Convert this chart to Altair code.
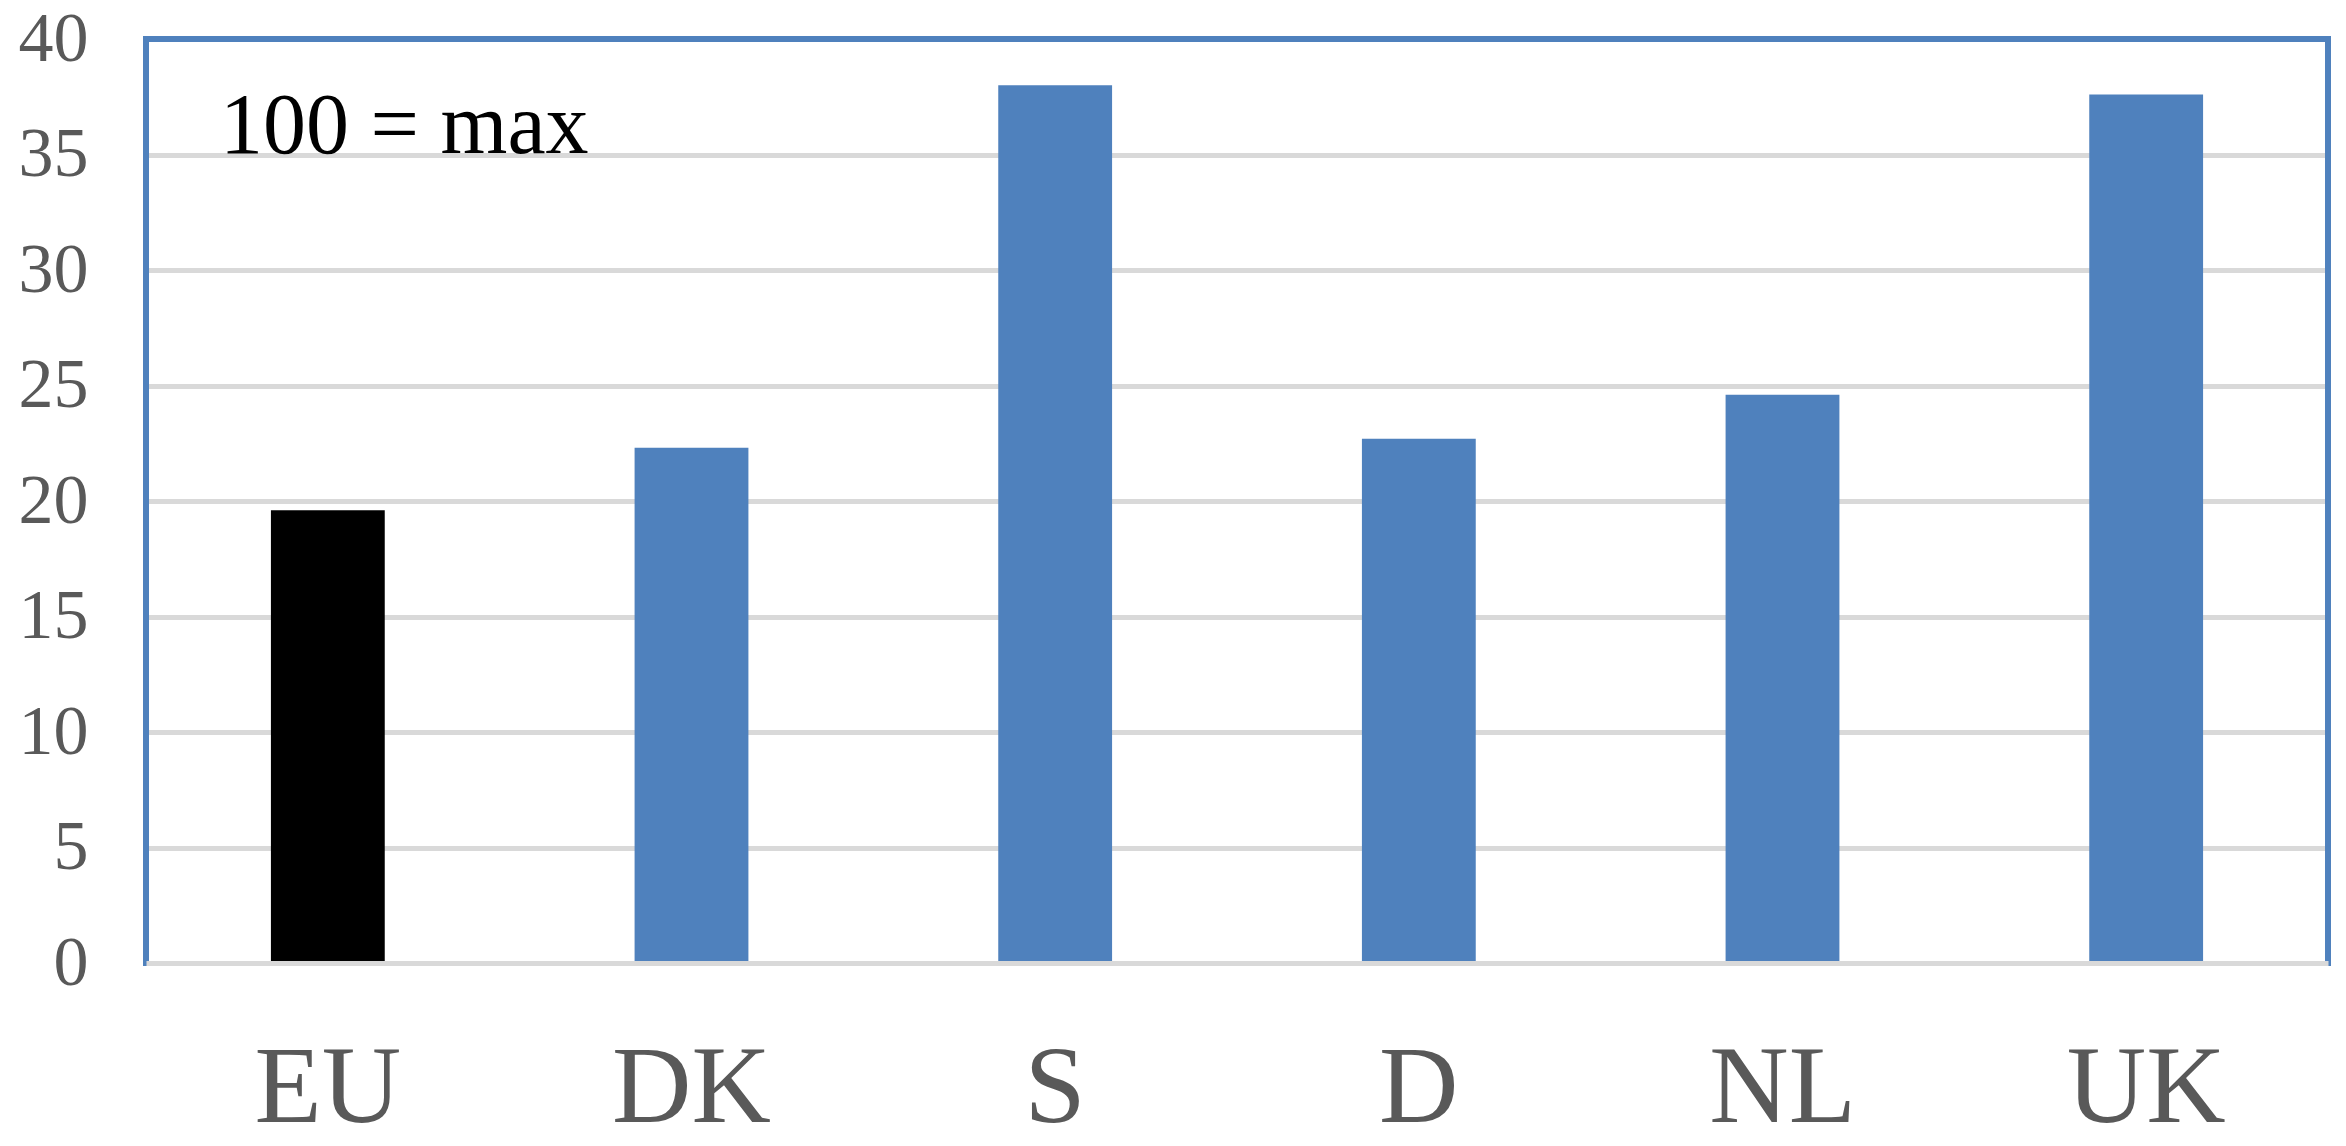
import altair as alt
import pandas as pd

categories = ["EU", "DK", "S", "D", "NL", "UK"]
values = [19.6, 22.3, 38.0, 22.7, 24.6, 37.6]
groups = ["eu", "country", "country", "country", "country", "country"]
y_ticks = [0, 5, 10, 15, 20, 25, 30, 35, 40]
note_text = ["100 = max"]

df = pd.DataFrame({"cat": categories, "val": values, "grp": groups})

FONT = "Liberation Serif"
GRAY = "#595959"
BLUE = "#4f81bd"
W, H = 2182, 924

bars = alt.Chart(df).mark_bar().encode(
    x=alt.X("cat:N", sort=categories,
            scale=alt.Scale(paddingInner=0.687, paddingOuter=0.3435),
            axis=alt.Axis(title=None, labelAngle=0, labelFontSize=110, labelFont=FONT,
                          labelColor=GRAY, ticks=False, tickSize=0, labelPadding=158,
                          labelBaseline="alphabetic", domain=True, domainColor="#d9d9d9",
                          domainWidth=5, grid=False, zindex=2)),
    y=alt.Y("val:Q", scale=alt.Scale(domain=[0, 40], nice=False),
            axis=alt.Axis(title=None, values=y_ticks, labelFontSize=70, labelFont=FONT,
                          labelColor=GRAY, ticks=False, tickSize=0, labelPadding=58,
                          domain=False, grid=True, gridColor="#d9d9d9", gridWidth=5)),
    color=alt.Color("grp:N", scale=alt.Scale(domain=["eu", "country"], range=["#000000", BLUE]),
                    legend=None),
)

base = alt.Chart(pd.DataFrame({"f": [0]}))
top_edge = base.mark_rule(color=BLUE, strokeWidth=6, strokeCap="square").encode(
    x=alt.value(0), x2=alt.value(W), y=alt.value(0))
left_edge = base.mark_rule(color=BLUE, strokeWidth=6, strokeCap="square").encode(
    x=alt.value(0), y=alt.value(0), y2=alt.value(H))
right_edge = base.mark_rule(color=BLUE, strokeWidth=6, strokeCap="square").encode(
    x=alt.value(W), y=alt.value(0), y2=alt.value(H))

note = alt.Chart(pd.DataFrame({"t": note_text})).mark_text(
    align="left", baseline="alphabetic", fontSize=86, font=FONT, color="#000000"
).encode(x=alt.value(74), y=alt.value(114), text="t:N")

chart = alt.layer(bars, top_edge, left_edge, right_edge, note).properties(
    width=W, height=H,
    autosize=alt.AutoSizeParams(type="none"),
    padding={"left": 138, "top": 31, "right": 10, "bottom": 170},
).configure_view(stroke=None)

chart.save("out.html", embed_options={"renderer": "svg", "actions": False})
